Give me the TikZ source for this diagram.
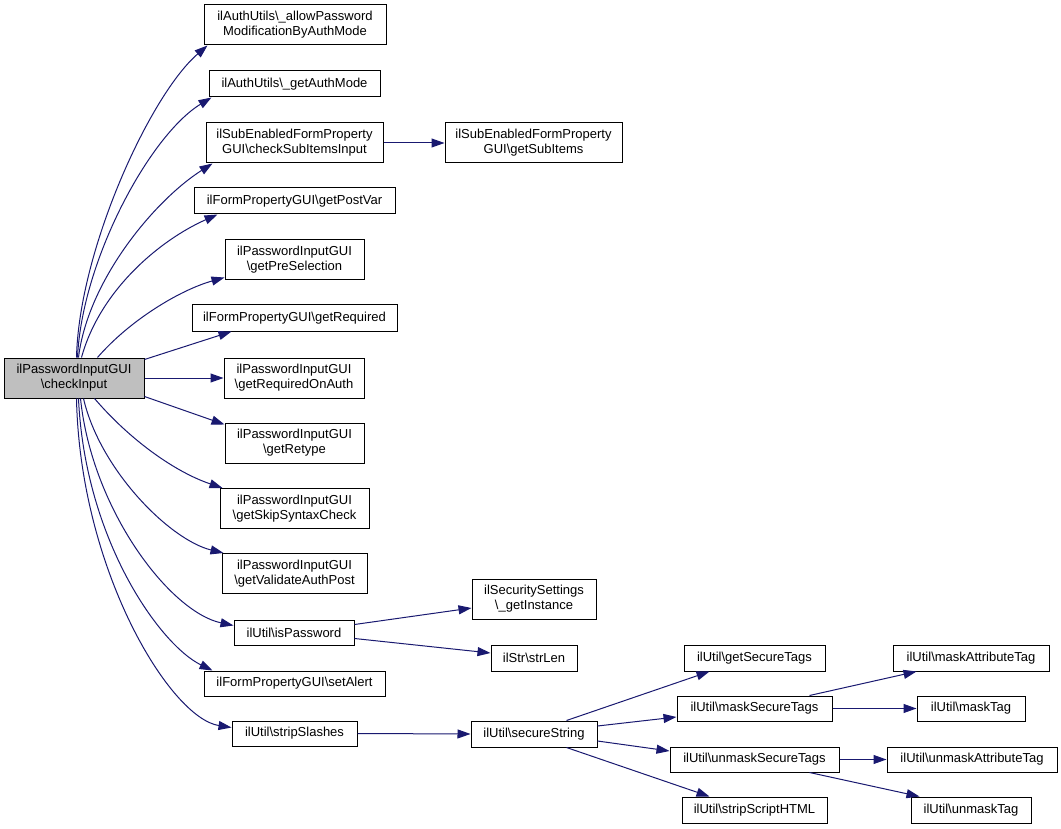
\documentclass[tikz,border=0pt]{standalone}
\usepackage{fontspec}
\setmainfont{Liberation Sans}
\usetikzlibrary{arrows.meta}
\definecolor{edgeblue}{HTML}{191970}
\definecolor{curgray}{HTML}{BFBFBF}
\begin{document}
\begin{tikzpicture}[x=1pt,y=-1pt,
  box/.style={draw=black,line width=1pt,fill=white,inner sep=0pt,align=center,
    font=\fontsize{13}{15}\selectfont},
  edge/.style={draw=edgeblue,line width=1pt,-{Triangle[length=13pt,width=9pt]}}]
\useasboundingbox (0,0) rectangle (1061,829);
\newcommand\bs{\textbackslash}
% first column
\node[box,fill=curgray,minimum width=140pt,minimum height=40pt] (ci) at (74,378) {ilPasswordInputGUI\\\bs checkInput};
% second column
\node[box,minimum width=182pt,minimum height=40pt] (apm) at (295,25) {ilAuthUtils\bs\_allowPassword\\ModificationByAuthMode};
\node[box,minimum width=171pt,minimum height=26pt] (gam) at (294.5,84) {ilAuthUtils\bs\_getAuthMode};
\node[box,minimum width=177pt,minimum height=40pt] (csi) at (294.5,143) {ilSubEnabledFormProperty\\GUI\bs checkSubItemsInput};
\node[box,minimum width=201pt,minimum height=26pt] (gpv) at (294.5,201) {ilFormPropertyGUI\bs getPostVar};
\node[box,minimum width=139pt,minimum height=40pt] (gps) at (294.5,260) {ilPasswordInputGUI\\\bs getPreSelection};
\node[box,minimum width=205pt,minimum height=26pt] (grq) at (294.5,318) {ilFormPropertyGUI\bs getRequired};
\node[box,minimum width=140pt,minimum height=40pt] (groa) at (294,378) {ilPasswordInputGUI\\\bs getRequiredOnAuth};
\node[box,minimum width=139pt,minimum height=40pt] (grt) at (294.5,443) {ilPasswordInputGUI\\\bs getRetype};
\node[box,minimum width=149pt,minimum height=40pt] (gssc) at (294.5,508.5) {ilPasswordInputGUI\\\bs getSkipSyntaxCheck};
\node[box,minimum width=145pt,minimum height=40pt] (gvap) at (294.5,573.5) {ilPasswordInputGUI\\\bs getValidateAuthPost};
\node[box,minimum width=120pt,minimum height=25pt] (isp) at (294,632.5) {ilUtil\bs isPassword};
\node[box,minimum width=181pt,minimum height=25pt] (sa) at (294.5,683.5) {ilFormPropertyGUI\bs setAlert};
\node[box,minimum width=125pt,minimum height=25pt] (ss) at (294.5,733.5) {ilUtil\bs stripSlashes};
% third column
\node[box,minimum width=177pt,minimum height=40pt] (gsi) at (533.5,143) {ilSubEnabledFormProperty\\GUI\bs getSubItems};
\node[box,minimum width=124pt,minimum height=40pt] (gi) at (534,599) {ilSecuritySettings\\\bs\_getInstance};
\node[box,minimum width=86pt,minimum height=26pt] (sl) at (534,658) {ilStr\bs strLen};
\node[box,minimum width=126pt,minimum height=26pt] (sst) at (534,734) {ilUtil\bs secureString};
% fourth column
\node[box,minimum width=141pt,minimum height=26pt] (gst) at (754.5,658) {ilUtil\bs getSecureTags};
\node[box,minimum width=155pt,minimum height=25pt] (mst) at (754.5,708.5) {ilUtil\bs maskSecureTags};
\node[box,minimum width=169pt,minimum height=25pt] (ust) at (754.5,759.5) {ilUtil\bs unmaskSecureTags};
\node[box,minimum width=145pt,minimum height=26pt] (ssh) at (754.5,810) {ilUtil\bs stripScriptHTML};
% fifth column
\node[box,minimum width=156pt,minimum height=26pt] (mat) at (971,658) {ilUtil\bs maskAttributeTag};
\node[box,minimum width=108pt,minimum height=25pt] (mt) at (971,708.5) {ilUtil\bs maskTag};
\node[box,minimum width=170pt,minimum height=25pt] (uat) at (972,759.5) {ilUtil\bs unmaskAttributeTag};
\node[box,minimum width=120pt,minimum height=26pt] (ut) at (971,810) {ilUtil\bs unmaskTag};
% edges from checkInput
\draw[edge] ([xshift=73pt]ci.north west) .. controls (79,250) and (150,95) .. ([xshift=4pt]apm.south west);
\draw[edge] ([xshift=74pt]ci.north west) .. controls (82,260) and (150,135) .. ([xshift=3pt]gam.south west);
\draw[edge] ([xshift=75pt]ci.north west) .. controls (88,280) and (155,200) .. ([xshift=7pt]csi.south west);
\draw[edge] ([xshift=78pt]ci.north west) .. controls (100,290) and (160,240) .. ([xshift=24pt]gpv.south west);
\draw[edge] ([xshift=94pt]ci.north west) .. controls (130,320) and (180,290) .. ([yshift=3pt]gps.south west);
\draw[edge] ([yshift=-2pt]ci.north east) -- ([xshift=40pt]grq.south west);
\draw[edge] (ci.east) -- (groa.west);
\draw[edge] ([yshift=2pt]ci.south east) -- ([yshift=-2pt]grt.north west);
\draw[edge] ([xshift=91pt]ci.south west) .. controls (130,440) and (175,472) .. ([xshift=3pt]gssc.north west);
\draw[edge] ([xshift=80pt]ci.south west) .. controls (100,470) and (170,540) .. ([xshift=2pt]gvap.north west);
\draw[edge] ([xshift=77pt]ci.south west) .. controls (92,510) and (170,612) .. ([yshift=7pt]isp.west);
\draw[edge] ([xshift=75pt]ci.south west) .. controls (85,540) and (160,645) .. ([xshift=9pt]sa.north west);
\draw[edge] ([xshift=73pt]ci.south west) .. controls (80,570) and (170,718) .. ([yshift=6pt]ss.west);
% second level
\draw[edge] (csi.east) -- (gsi.west);
\draw[edge] ([yshift=8pt]isp.east) -- ([yshift=-9pt]gi.west);
\draw[edge] ([yshift=-6pt]isp.east) -- ([yshift=5pt]sl.west);
\draw[edge] (ss.east) -- (sst.west);
% third level
\draw[edge] ([xshift=96pt]sst.north west) -- ([xshift=26pt]gst.south west);
\draw[edge] ([yshift=8pt]sst.east) -- ([yshift=-8.5pt]mst.west);
\draw[edge] ([yshift=-7pt]sst.east) -- ([yshift=8.5pt]ust.west);
\draw[edge] ([xshift=96pt]sst.south west) -- ([xshift=28pt]ssh.north west);
% fourth level
\draw[edge] ([xshift=133pt]mst.north west) -- ([xshift=24pt]mat.south west);
\draw[edge] (mst.east) -- (mt.west);
\draw[edge] (ust.east) -- (uat.west);
\draw[edge] ([xshift=140pt]ust.south west) -- ([xshift=9pt]ut.north west);
\end{tikzpicture}
\end{document}
